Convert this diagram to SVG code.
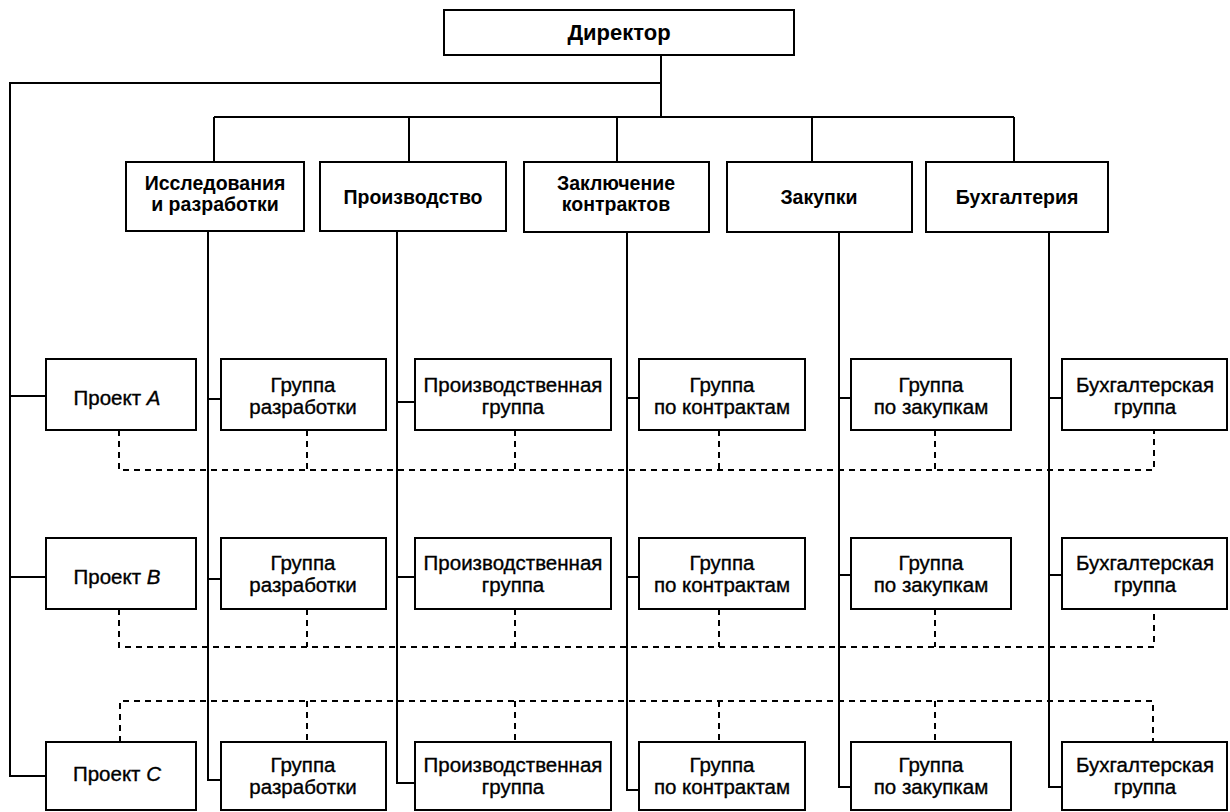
<svg xmlns="http://www.w3.org/2000/svg" width="1230" height="812" viewBox="0 0 1230 812">
  <style>
    .box { fill: #fff; stroke: #000; stroke-width: 2; }
    .ln { fill: none; stroke: #000; stroke-width: 2; }
    .dash { fill: none; stroke: #000; stroke-width: 2; stroke-dasharray: 6 5; }
    text { font-family: "Liberation Sans", Arial, sans-serif; font-size: 20.5px; text-anchor: middle; fill: #000; stroke: #000; stroke-width: 0.35; }
    .b { font-weight: bold; font-size: 19.5px; stroke-width: 0; }
    .top { font-size: 22px; }
    .i { font-style: italic; }
  </style>
  <rect x="0" y="0" width="1230" height="812" fill="#fff"/>

  <!-- connectors -->
  <g id="connectors">
    <!-- director trunk, bus and drops to departments -->
    <path class="ln" d="M661,55 V117"/>
    <path class="ln" d="M214,117 H1014"/>
    <path class="ln" d="M214,117 V162 M409,117 V162 M617,117 V162 M812,117 V162 M1014,117 V162"/>
    <!-- project line on the left -->
    <path class="ln" d="M661,83 H10 V776 H46 M10,396 H46 M10,577 H46"/>
    <!-- department columns -->
    <path class="ln" d="M208,231 V780 H221 M208,399 H221 M208,579 H221"/>
    <path class="ln" d="M397,231 V783 H415 M397,402 H415 M397,577 H415"/>
    <path class="ln" d="M627,232 V790 H639 M627,398 H639 M627,577 H639"/>
    <path class="ln" d="M839,232 V787 H851 M839,398 H851 M839,575 H851"/>
    <path class="ln" d="M1049,232 V787 H1062 M1049,398 H1062 M1049,575 H1062"/>
    <!-- project A links -->
    <path class="dash" d="M119,430 V470 H1154 V430 M307,430 V470 M515,430 V470 M719,430 V470 M935,430 V470"/>
    <!-- project B links -->
    <path class="dash" d="M119,609 V647 H1154 V609 M307,609 V647 M515,609 V647 M719,609 V647 M935,609 V647"/>
    <!-- project C links -->
    <path class="dash" d="M120,742 V701 H1153 V742 M307,701 V742 M515,701 V742 M719,701 V742 M935,701 V742"/>
  </g>

  <g id="director">
    <rect class="box" x="444" y="10" width="350" height="45"/>
    <text class="b top" x="619" y="40">Директор</text>
  </g>

  <!-- departments -->
  <g id="dept-rnd">
    <rect class="box" x="126" y="162" width="178" height="69"/>
    <text class="b" x="215" y="190">Исследования</text>
    <text class="b" x="215" y="211">и разработки</text>
  </g>
  <g id="dept-production">
    <rect class="box" x="320" y="162" width="186" height="69"/>
    <text class="b" x="413" y="204">Производство</text>
  </g>
  <g id="dept-contracts">
    <rect class="box" x="524" y="162" width="185" height="70"/>
    <text class="b" x="616" y="190">Заключение</text>
    <text class="b" x="616" y="211">контрактов</text>
  </g>
  <g id="dept-purchasing">
    <rect class="box" x="727" y="162" width="185" height="70"/>
    <text class="b" x="819" y="204">Закупки</text>
  </g>
  <g id="dept-accounting">
    <rect class="box" x="926" y="162" width="182" height="70"/>
    <text class="b" x="1017" y="204">Бухгалтерия</text>
  </g>

  <!-- project A row -->
  <g id="a-project">
    <rect class="box" x="46" y="359" width="150" height="71"/>
    <text x="117" y="405">Проект <tspan class="i">A</tspan></text>
  </g>
  <g id="a-dev">
    <rect class="box" x="221" y="359" width="165" height="71"/>
    <text x="303" y="392">Группа</text>
    <text x="303" y="414">разработки</text>
  </g>
  <g id="a-prod">
    <rect class="box" x="415" y="359" width="196" height="71"/>
    <text x="513" y="392">Производственная</text>
    <text x="513" y="414">группа</text>
  </g>
  <g id="a-contracts">
    <rect class="box" x="639" y="359" width="166" height="71"/>
    <text x="722" y="392">Группа</text>
    <text x="722" y="414">по контрактам</text>
  </g>
  <g id="a-purchasing">
    <rect class="box" x="851" y="359" width="160" height="71"/>
    <text x="931" y="392">Группа</text>
    <text x="931" y="414">по закупкам</text>
  </g>
  <g id="a-accounting">
    <rect class="box" x="1062" y="359" width="165" height="71"/>
    <text x="1145" y="392">Бухгалтерская</text>
    <text x="1145" y="414">группа</text>
  </g>

  <!-- project B row -->
  <g id="b-project">
    <rect class="box" x="46" y="538" width="150" height="71"/>
    <text x="117" y="584">Проект <tspan class="i">B</tspan></text>
  </g>
  <g id="b-dev">
    <rect class="box" x="221" y="538" width="165" height="71"/>
    <text x="303" y="570">Группа</text>
    <text x="303" y="592">разработки</text>
  </g>
  <g id="b-prod">
    <rect class="box" x="415" y="538" width="196" height="71"/>
    <text x="513" y="570">Производственная</text>
    <text x="513" y="592">группа</text>
  </g>
  <g id="b-contracts">
    <rect class="box" x="639" y="538" width="166" height="71"/>
    <text x="722" y="570">Группа</text>
    <text x="722" y="592">по контрактам</text>
  </g>
  <g id="b-purchasing">
    <rect class="box" x="851" y="538" width="160" height="71"/>
    <text x="931" y="570">Группа</text>
    <text x="931" y="592">по закупкам</text>
  </g>
  <g id="b-accounting">
    <rect class="box" x="1062" y="538" width="165" height="71"/>
    <text x="1145" y="570">Бухгалтерская</text>
    <text x="1145" y="592">группа</text>
  </g>

  <!-- project C row -->
  <g id="c-project">
    <rect class="box" x="46" y="742" width="150" height="68"/>
    <text x="117" y="781">Проект <tspan class="i">C</tspan></text>
  </g>
  <g id="c-dev">
    <rect class="box" x="221" y="742" width="165" height="68"/>
    <text x="303" y="772">Группа</text>
    <text x="303" y="794">разработки</text>
  </g>
  <g id="c-prod">
    <rect class="box" x="415" y="742" width="196" height="68"/>
    <text x="513" y="772">Производственная</text>
    <text x="513" y="794">группа</text>
  </g>
  <g id="c-contracts">
    <rect class="box" x="639" y="742" width="166" height="68"/>
    <text x="722" y="772">Группа</text>
    <text x="722" y="794">по контрактам</text>
  </g>
  <g id="c-purchasing">
    <rect class="box" x="851" y="742" width="160" height="68"/>
    <text x="931" y="772">Группа</text>
    <text x="931" y="794">по закупкам</text>
  </g>
  <g id="c-accounting">
    <rect class="box" x="1062" y="742" width="165" height="68"/>
    <text x="1145" y="772">Бухгалтерская</text>
    <text x="1145" y="794">группа</text>
  </g>
</svg>
